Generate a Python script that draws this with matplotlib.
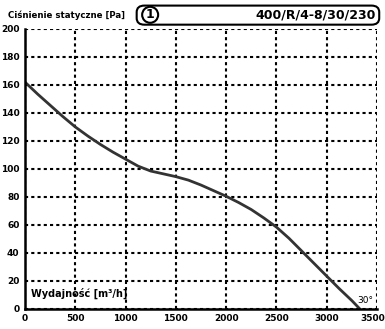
import matplotlib.pyplot as plt
import matplotlib.transforms as mtransforms
from matplotlib.patches import FancyBboxPatch

# fan curve
flow = [0, 125, 250, 375, 500, 625, 750, 875, 1000, 1125, 1250, 1375, 1500,
        1625, 1750, 1875, 2000, 2125, 2250, 2375, 2500, 2625, 2750, 2875,
        3000, 3125, 3250, 3330]
pressure = [162, 153.5, 145.5, 137.5, 130, 123.5, 117.5, 112, 107, 102, 98.5, 96.5, 94.5,
            92, 88.5, 84.5, 80.5, 76, 71, 65, 58.5, 50.5, 41.5, 32.5,
            23.5, 14.5, 6, 0]

x_ticks = [0, 500, 1000, 1500, 2000, 2500, 3000, 3500]
y_ticks = [0, 20, 40, 60, 80, 100, 120, 140, 160, 180, 200]

y_title = 'Ciśnienie statyczne [Pa]'
x_title = 'Wydajność [m³/h]'
model = '400/R/4-8/30/230'

fig = plt.figure(figsize=(3.85, 3.29), dpi=100)
ax = fig.add_axes([0.065, 0.061, 0.914, 0.851])

ax.plot(flow, pressure, color='#333333', lw=2.0, solid_capstyle='round')

ax.set_xlim(0, 3500)
ax.set_ylim(0, 200)
ax.set_xticks(x_ticks)
ax.set_yticks(y_ticks)
ax.grid(True, color='black', linestyle=(0, (1.5, 1.5)), lw=1.5)
ax.tick_params(length=0, labelsize=6.5, pad=4)
for lab in ax.get_xticklabels() + ax.get_yticklabels():
    lab.set_fontweight('bold')

# last x label sits against the right edge, nudge it in a little
last = ax.xaxis.get_major_ticks()[-1].label1
last.set_transform(last.get_transform() +
                   mtransforms.ScaledTranslation(-4 / 100, 0, fig.dpi_scale_trans))

for s in ['top', 'right']:
    ax.spines[s].set_visible(False)
ax.spines['left'].set_linewidth(1.8)
ax.spines['bottom'].set_linewidth(1.8)

ax.text(60, 9, x_title, fontsize=7, fontweight='bold')
ax.text(3300, 4, '30°', fontsize=6.5)

fig.text(0.02, 0.955, y_title, fontsize=6.2, fontweight='bold', va='center')
box = FancyBboxPatch((0.355, 0.925), 0.63, 0.058, transform=fig.transFigure,
                     boxstyle='round,pad=0,rounding_size=0.02',
                     fc='white', ec='black', lw=1.5)
fig.patches.append(box)
fig.text(0.39, 0.955, '1', fontsize=9, fontweight='bold', ha='center', va='center',
         bbox=dict(boxstyle='circle,pad=0.12', fc='white', ec='black', lw=1.5))
fig.text(0.975, 0.955, model, fontsize=9, fontweight='bold', ha='right', va='center')

fig.savefig('out.png', dpi=100)
